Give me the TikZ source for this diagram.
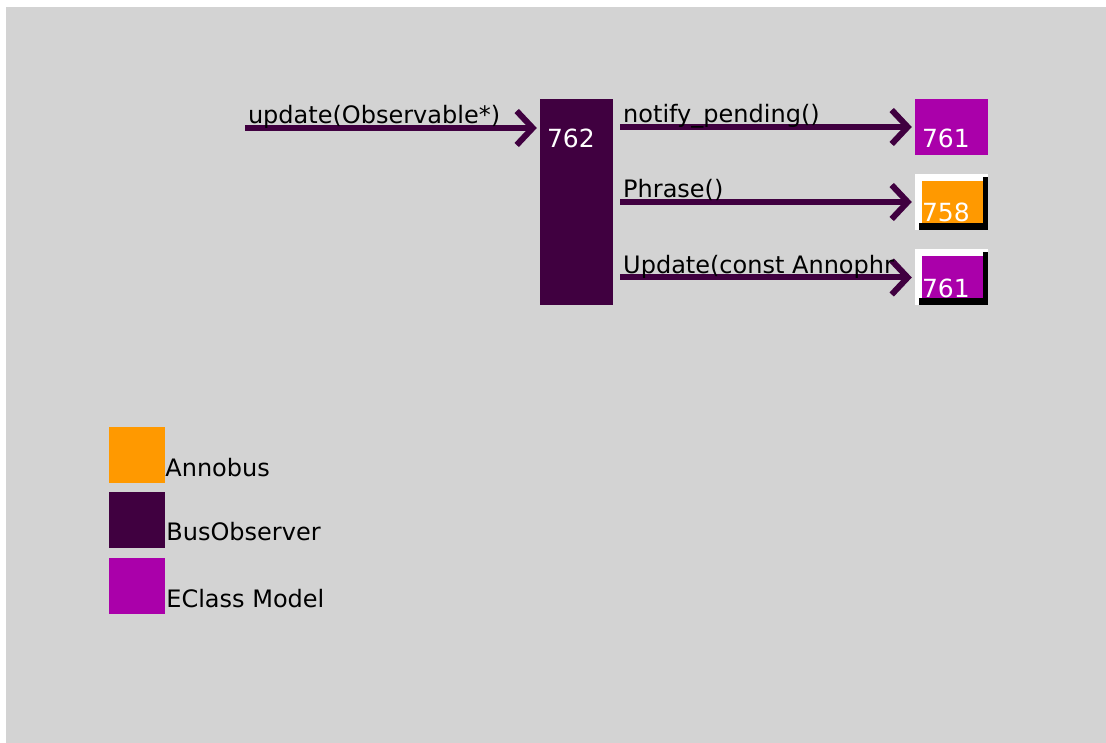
\documentclass[tikz,border=0pt]{standalone}
\usepackage{fontspec}
\newfontfamily\diagfont{DejaVu Sans}
\usetikzlibrary{arrows.meta}

\definecolor{bgray}{HTML}{D3D3D3}
\definecolor{obscol}{HTML}{400040}
\definecolor{modelcol}{HTML}{AA00AA}
\definecolor{annocol}{HTML}{FF9900}

\tikzset{
    objbox/.style = {fill = #1, inner sep = 0pt, minimum width = 73pt, minimum height = 56pt},
    shadowbox/.style = {fill = white, inner sep = 0pt, minimum width = 73pt, minimum height = 56pt,
        path picture = {
            \fill [black] ([shift = {(-5pt,-3pt)}]path picture bounding box.north east) rectangle (path picture bounding box.south east);
            \fill [black] ([shift = {(4pt,7pt)}]path picture bounding box.south west) rectangle (path picture bounding box.south east);
            \fill [#1] ([shift = {(7pt,-7pt)}]path picture bounding box.north west) rectangle ([shift = {(-5pt,7pt)}]path picture bounding box.south east);
        }},
    idtext/.style = {text = white, font = \diagfont\fontsize{25}{28}\selectfont, inner sep = 0pt, anchor = base west},
    msg/.style = {draw = obscol, line width = 6pt, -{Straight Barb[length = 16pt, width = 34pt]}},
    msglabel/.style = {font = \diagfont\fontsize{24}{28}\selectfont, inner sep = 0pt, anchor = base west},
    swatch/.style = {fill = #1, inner sep = 0pt, minimum width = 56pt, minimum height = 56pt},
    legendtext/.style = {font = \diagfont\fontsize{24}{28}\selectfont, inner sep = 0pt, anchor = base west}
}

\begin{document}
\begin{tikzpicture}[x = 1pt, y = -1pt]
    \fill [white] (0,0) rectangle (1106,743);
    \fill [bgray] (6,7) rectangle (1106,743);

    % objects
    \node [objbox = obscol, minimum height = 206pt] (obs) at (576.5,202) {};
    \node [objbox = modelcol] (model1) at (951.5,127) {};
    \node [shadowbox = annocol] (annobus) at (951.5,202) {};
    \node [shadowbox = modelcol] (model2) at (951.5,277.5) {};
    \node [idtext] (obsid) at ([shift = {(7pt,-49pt)}]obs.north west) {762};
    \node [idtext] (model1id) at ([shift = {(7pt,-49pt)}]model1.north west) {761};
    \node [idtext] (annobusid) at ([shift = {(7pt,-48pt)}]annobus.north west) {758};
    \node [idtext] (model2id) at ([shift = {(7pt,-48pt)}]model2.north west) {761};

    % messages
    \coordinate (src) at (245,128);
    \draw [msg, shorten >= 3pt] (src) -- (src -| obs.west)
        node [pos = 0, msglabel, shift = {(0pt,4pt)}] (updatelabel) {update(Observable*)};
    \draw [msg, shorten <= 7pt, shorten >= 3pt] (obs.east |- model1) -- (model1)
        node [pos = 0, msglabel, shift = {(7pt,4pt)}] (notifylabel) {notify\_pending()};
    \draw [msg, shorten <= 7pt, shorten >= 3pt] (obs.east |- annobus) -- (annobus)
        node [pos = 0, msglabel, shift = {(7pt,4pt)}] (phraselabel) {Phrase()};
    \draw [msg, shorten <= 7pt, shorten >= 3pt] (obs.east |- model2) -- (model2)
        node [pos = 0, msglabel, shift = {(7pt,4pt)}] (Updatelabel) {Update(const Annophr};

    % legend
    \node [swatch = annocol] (annokey) at (137,454.5) {};
    \node [swatch = obscol] (obskey) at (137,520) {};
    \node [swatch = modelcol] (modelkey) at (137,586) {};
    \node [legendtext] (annokeytext) at ([shift = {(0pt,6pt)}]annokey.south east) {Annobus};
    \node [legendtext] (obskeytext) at ([shift = {(1pt,8pt)}]obskey.south east) {BusObserver};
    \node [legendtext] (modelkeytext) at ([shift = {(1pt,7pt)}]modelkey.south east) {EClass Model};
\end{tikzpicture}
\end{document}
